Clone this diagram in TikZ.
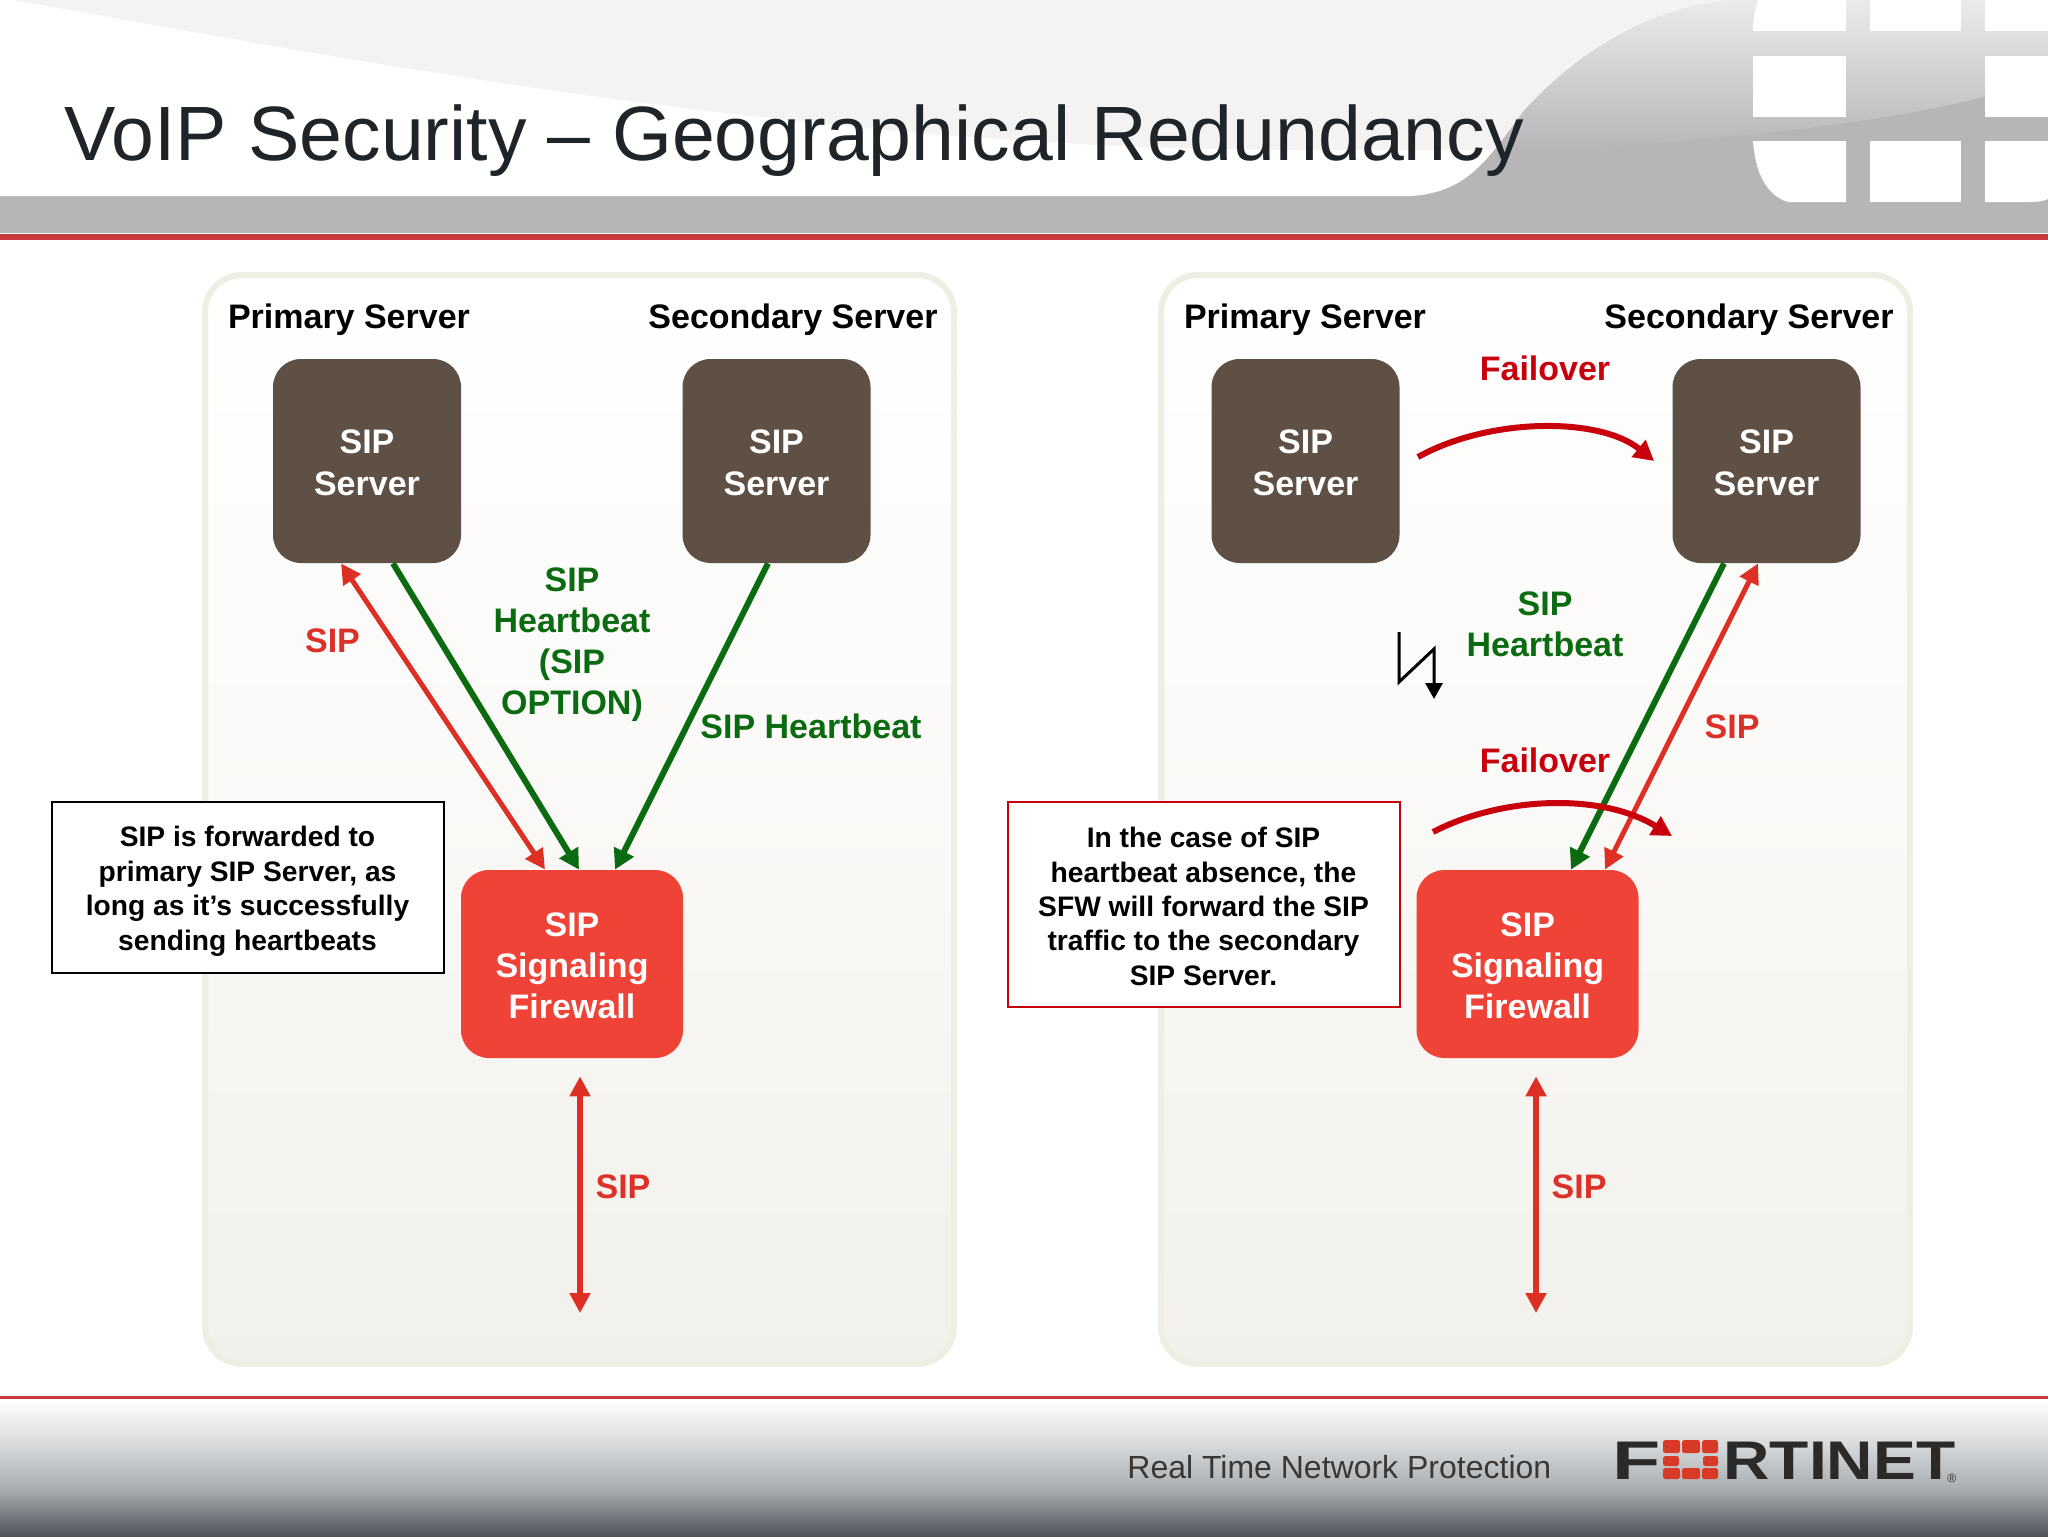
\documentclass[tikz,border=0pt]{standalone}
\usepackage{fontspec}
\setmainfont{Liberation Sans}
\usetikzlibrary{arrows.meta}
\definecolor{darkbox}{HTML}{5F5046}
\definecolor{fwred}{HTML}{F04338}
\definecolor{hbgreen}{HTML}{0B6B10}
\definecolor{siplabel}{HTML}{DC3128}
\definecolor{sipline}{HTML}{DE2F24}
\definecolor{failred}{HTML}{C8000C}
\definecolor{panelline}{HTML}{EFEEE3}
\definecolor{panelbot}{HTML}{F2F0EA}
\definecolor{bandgray}{HTML}{B6B6B9}
\definecolor{gradtop}{HTML}{EBEBEC}
\definecolor{wedgegray}{HTML}{F3F3F4}
\definecolor{rulered}{HTML}{C9383B}
\definecolor{titleink}{HTML}{1F2429}
\definecolor{logored}{HTML}{D93A27}
\definecolor{logoink}{HTML}{2A2A2A}
\definecolor{foota}{HTML}{D4D6D8}
\definecolor{footb}{HTML}{A8ACB0}
\definecolor{footc}{HTML}{50535A}
\newcommand{\lowerA}{\rule{0pt}{13.7pt}}
\tikzset{
  panel/.style={draw=panelline,line width=3pt,rounded corners=18.5pt,minimum width=374.5pt,minimum height=544.5pt,inner sep=0pt,
    top color=white,bottom color=panelbot,middle color=white!60!panelbot,shading angle=0},
  serverbox/.style={fill=darkbox,rounded corners=14pt,minimum width=94pt,minimum height=102pt,inner sep=0pt,
    text=white,align=center,font=\fontsize{17}{21}\selectfont\bfseries},
  fwbox/.style={fill=fwred,rounded corners=14pt,minimum width=111pt,minimum height=94pt,inner sep=0pt,
    text=white,align=center,font=\fontsize{17}{20.5}\selectfont\bfseries},
  notebox/.style={fill=white,draw=black,line width=1pt,minimum width=196pt,inner sep=0pt,align=center,
    font=\fontsize{14.1}{17.2}\selectfont\bfseries,text=black},
  headlab/.style={anchor=base,inner sep=0pt,font=\fontsize{17}{20}\selectfont\bfseries,text=black},
  lab/.style={inner sep=0pt,align=center,font=\fontsize{17}{20.5}\selectfont\bfseries},
  greenlab/.style={lab,text=hbgreen},
  siplab/.style={lab,text=siplabel},
  faillab/.style={lab,text=failred},
  greenarrow/.style={draw=hbgreen,line width=3pt,-{Triangle[length=10pt,width=10.5pt]}},
  siparrow/.style={draw=sipline,line width=2.5pt,{Triangle[length=10pt,width=10pt]}-{Triangle[length=10pt,width=10pt]}},
  sipvert/.style={siparrow,line width=2.85pt},
  failarrow/.style={draw=failred,line width=3pt,-{Triangle[length=10pt,width=10.5pt]}},
  window/.style={fill=white,draw=none}
}
\begin{document}
\begin{tikzpicture}[x=0.5pt,y=-0.5pt]
\useasboundingbox (0,0) rectangle (2048,1536);
% header
\shade[top color=gradtop,bottom color=bandgray] (0,0) rectangle (2048,150);
\fill[bandgray] (1515,150) .. controls (1640,148) and (1850,130) .. (1980,98) -- (2048,80) -- (2048,233) -- (0,233) -- (0,150) -- cycle;
\fill[white] (0,0) -- (1729,0) .. controls (1640,8) and (1570,60) .. (1524,110) .. controls (1490,155) and (1470,193) .. (1410,196) -- (0,196) -- cycle;
\begin{scope}
\clip (0,0) -- (1729,0) .. controls (1640,8) and (1570,60) .. (1524,110) .. controls (1490,155) and (1470,193) .. (1410,196) -- (0,196) -- cycle;
\fill[wedgegray] (13,0) .. controls (300,50) and (800,150) .. (1300,150) -- (1600,150) -- (1800,0) -- cycle;
\end{scope}
\fill[window] (1758,0) -- (1846,0) -- (1846,31) -- (1753,31) .. controls (1753,20) and (1755,10) .. (1758,0) -- cycle;
\fill[window] (1753,56) rectangle (1846,117);
\fill[window] (1753,141) -- (1846,141) -- (1846,202) -- (1788,202) .. controls (1765,195) and (1755,170) .. (1753,141) -- cycle;
\fill[window] (1870,0) rectangle (1961,31);
\fill[window] (1870,141) rectangle (1961,202);
\fill[window] (1985,0) rectangle (2048,31);
\fill[window] (1985,56) rectangle (2048,117);
\fill[window] (1985,141) -- (2048,141) -- (2048,199) .. controls (2044,201) and (2038,202) .. (2030,202) -- (1985,202) -- cycle;
\fill[rulered] (0,234) rectangle (2048,240);
\node[anchor=base west,inner sep=0pt,text=titleink,font=\fontsize{38.5}{44}\selectfont] (title) at (64,160) {VoIP Security – Geographical Redundancy};
% footer
\shade[top color=white,bottom color=foota] (0,1399) rectangle (2048,1448);
\shade[top color=foota,bottom color=footb] (0,1447.5) rectangle (2048,1490);
\shade[top color=footb,bottom color=footc] (0,1489.5) rectangle (2048,1536);
\fill[rulered] (0,1395.5) rectangle (2048,1398.5);
\node[anchor=base west,inner sep=0pt,text=black!78,font=\fontsize{16}{19}\selectfont] (tagline) at (1127,1478) {Real Time Network Protection};
% logo
\node[anchor=base west,inner sep=0pt,text=logoink,font=\fontsize{27.2}{30}\selectfont\bfseries,xscale=1.45] (logof) at (1612,1479) {F};
\node[anchor=base west,inner sep=0pt,text=logoink,font=\fontsize{27.2}{30}\selectfont\bfseries,xscale=1.18] (logor) at (1723,1479) {RTINET};
\node[anchor=base west,inner sep=0pt,text=logoink,font=\fontsize{6}{7}\selectfont] (logoreg) at (1947,1482) {®};
\foreach \xa/\xb/\ya/\yb in {1663/1680/1440/1453,1682/1700/1440/1453,1702/1718/1440/1453,1663/1679/1456/1466,1703/1718/1456/1466,1663/1680/1468/1479,1682/1700/1468/1479,1702/1718/1468/1479}
  \fill[logored,rounded corners=1.2pt] (\xa,\ya) rectangle (\xb,\yb);
% panels
\node[panel] (panelL) at (579.5,819.5) {};
\node[panel] (panelR) at (1535.5,819.5) {};
% left diagram
\node[headlab] (priL) at (349,328) {Primary Server};
\node[headlab] (secL) at (793,328) {Secondary Server};
\node[serverbox] (sL1) at (367,461) {\lowerA SIP\\Server};
\node[serverbox] (sL2) at (776.5,461) {\lowerA SIP\\Server};
\node[fwbox] (fwL) at (572,964) {\lowerA SIP\\Signaling\\Firewall};
\node[notebox,minimum height=85.5pt] (noteL) at (247.5,887.5) {\rule{0pt}{14pt}SIP is forwarded to\\primary SIP Server, as\\long as it’s successfully\\sending heartbeats};
\node[siplab] (lbSipL) at (332.5,641) {SIP};
\node[greenlab] (lbHbL) at (572,645) {SIP\\Heartbeat\\(SIP\\OPTION)};
\node[greenlab] (lbHbL2) at (811,726) {SIP Heartbeat};
\node[siplab] (lbSipL2) at (623,1187) {SIP};
\coordinate (botL) at (580,1313);
\coordinate (botR) at (1536,1313);
\draw[siparrow] ([xshift=-13pt]sL1.south) -- ([xshift=-13.5pt]fwL.north);
\draw[greenarrow] ([xshift=13pt]sL1.south) -- ([xshift=3.5pt]fwL.north);
\draw[greenarrow] ([xshift=-4.25pt]sL2.south) -- ([xshift=21.5pt]fwL.north);
\draw[sipvert] ([xshift=4pt,yshift=-9pt]fwL.south) -- (botL);
% right diagram
\node[headlab] (priR) at (1305,328) {Primary Server};
\node[headlab] (secR) at (1749,328) {Secondary Server};
\node[serverbox] (sR1) at (1305.5,461) {\lowerA SIP\\Server};
\node[serverbox] (sR2) at (1766.5,461) {\lowerA SIP\\Server};
\node[fwbox] (fwR) at (1527.5,964) {\lowerA SIP\\Signaling\\Firewall};
\node[notebox,draw=failred,minimum height=102.5pt] (noteR) at (1203.5,904.5) {\rule{0pt}{12.2pt}In the case of SIP\\heartbeat absence, the\\SFW will forward the SIP\\traffic to the secondary\\SIP Server.};
\node[faillab] (lbF1) at (1545,368) {Failover};
\node[greenlab] (lbHbR) at (1545,624) {SIP\\Heartbeat};
\node[faillab] (lbF2) at (1545,760) {Failover};
\node[siplab] (lbSipR) at (1732,727) {SIP};
\node[siplab] (lbSipR2) at (1579,1187) {SIP};
\draw[failarrow] ([xshift=9pt,yshift=2pt]sR1.east) .. controls (1490,417) and (1600,417) .. ([xshift=-9pt]sR2.west);
\draw[greenarrow] ([xshift=-21.25pt]sR2.south) -- ([xshift=21.75pt]fwR.north);
\draw[siparrow] ([xshift=-4.25pt]sR2.south) -- ([xshift=38.75pt]fwR.north);
\draw[sipvert] ([xshift=4.25pt,yshift=-9pt]fwR.south) -- (botR);
\coordinate (fa) at (1433,832);
\coordinate (fb) at (1672,836);
\draw[failarrow] (fa) .. controls (1500,797) and (1600,792) .. (fb);
\coordinate (la) at (1399,632);
\coordinate (lb) at (1399,682);
\coordinate (lc) at (1434,649);
\coordinate (ld) at (1434,699);
\draw[line width=1.5pt,black,-{Triangle[length=8pt,width=8.5pt]}] (la) -- (lb) -- (lc) -- (ld);
\end{tikzpicture}
\end{document}
